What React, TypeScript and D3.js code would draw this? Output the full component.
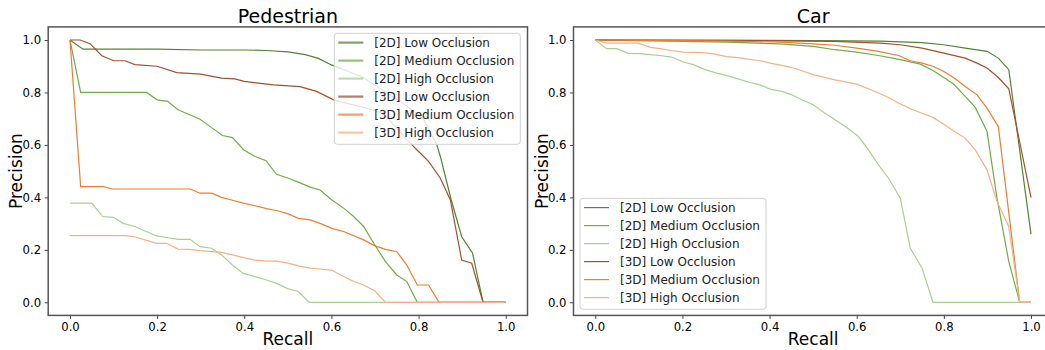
import React, { useEffect, useRef } from 'react'
import * as d3 from 'd3'

type Pt = [number, number]

// recall / precision pairs
const ped2DLow: Pt[] = [[0,1],[0.03,0.965],[0.1,0.965],[0.2,0.965],[0.3,0.962],[0.4,0.962],[0.45,0.96],[0.5,0.955],[0.54,0.944],[0.57,0.93],[0.6,0.905],[0.67,0.86],[0.758,0.766],[0.811,0.7],[0.842,0.6],[0.85,0.556],[0.875,0.39],[0.899,0.25],[0.924,0.187],[0.948,0],[1,0]]
const ped2DMed: Pt[] = [[0,1],[0.0245,0.8],[0.176,0.8],[0.2,0.772],[0.224,0.766],[0.248,0.734],[0.272,0.717],[0.2985,0.698],[0.325,0.666],[0.35,0.636],[0.373,0.628],[0.399,0.581],[0.425,0.556],[0.45,0.54],[0.474,0.488],[0.501,0.473],[0.524,0.458],[0.551,0.439],[0.574,0.428],[0.601,0.39],[0.628,0.359],[0.651,0.327],[0.674,0.289],[0.697,0.225],[0.724,0.155],[0.75,0.104],[0.773,0.079],[0.797,0],[1,0]]
const ped2DHigh: Pt[] = [[0,0.378],[0.05,0.378],[0.075,0.327],[0.1,0.324],[0.122,0.301],[0.149,0.289],[0.172,0.272],[0.199,0.253],[0.222,0.247],[0.248,0.24],[0.2755,0.24],[0.2985,0.212],[0.325,0.206],[0.348,0.18],[0.375,0.139],[0.398,0.11],[0.425,0.098],[0.451,0.085],[0.474,0.072],[0.501,0.051],[0.524,0.041],[0.549,0],[1,0]]
const ped3DLow: Pt[] = [[0,1],[0.023,1],[0.046,0.986],[0.073,0.94],[0.1,0.921],[0.126,0.921],[0.149,0.906],[0.2,0.9],[0.245,0.876],[0.3,0.87],[0.348,0.855],[0.378,0.852],[0.4,0.842],[0.467,0.829],[0.528,0.822],[0.566,0.804],[0.605,0.772],[0.68,0.74],[0.72,0.72],[0.773,0.62],[0.8,0.575],[0.823,0.537],[0.85,0.473],[0.873,0.39],[0.899,0.161],[0.922,0.149],[0.948,0],[1,0]]
const ped3DMed: Pt[] = [[0,1],[0.0245,0.441],[0.077,0.441],[0.096,0.432],[0.276,0.432],[0.2985,0.416],[0.325,0.416],[0.348,0.4],[0.375,0.388],[0.398,0.378],[0.425,0.368],[0.451,0.357],[0.474,0.35],[0.501,0.337],[0.524,0.32],[0.551,0.314],[0.574,0.301],[0.601,0.282],[0.628,0.27],[0.674,0.238],[0.7,0.215],[0.724,0.202],[0.75,0.193],[0.773,0.142],[0.797,0.066],[0.823,0.066],[0.847,0],[1,0]]
const ped3DHigh: Pt[] = [[0,0.254],[0.126,0.254],[0.149,0.25],[0.172,0.238],[0.199,0.225],[0.222,0.225],[0.248,0.203],[0.2755,0.202],[0.2985,0.197],[0.325,0.193],[0.348,0.19],[0.375,0.18],[0.398,0.17],[0.425,0.161],[0.451,0.157],[0.474,0.157],[0.501,0.149],[0.524,0.139],[0.551,0.13],[0.574,0.127],[0.601,0.122],[0.628,0.098],[0.651,0.079],[0.674,0.066],[0.7,0.043],[0.724,0],[1,0]]

const car2DLow: Pt[] = [[0,1],[0.3,0.999],[0.5,0.998],[0.654,0.996],[0.75,0.99],[0.8,0.982],[0.849,0.969],[0.899,0.957],[0.925,0.931],[0.949,0.887],[1,0.26]]
const car2DMed: Pt[] = [[0,1],[0.1,0.998],[0.2,0.995],[0.3,0.992],[0.424,0.985],[0.5,0.976],[0.55,0.963],[0.6,0.954],[0.65,0.941],[0.7,0.925],[0.746,0.908],[0.776,0.883],[0.8,0.857],[0.822,0.832],[0.849,0.785],[0.872,0.743],[0.899,0.651],[0.922,0.397],[0.949,0.155],[0.974,0],[1,0]]
const car2DHigh: Pt[] = [[0,1],[0.026,0.967],[0.049,0.967],[0.076,0.949],[0.103,0.948],[0.126,0.944],[0.152,0.94],[0.175,0.935],[0.202,0.916],[0.225,0.906],[0.252,0.887],[0.279,0.874],[0.302,0.864],[0.328,0.852],[0.351,0.84],[0.378,0.829],[0.401,0.813],[0.428,0.804],[0.451,0.791],[0.474,0.772],[0.5,0.753],[0.524,0.725],[0.55,0.696],[0.577,0.666],[0.604,0.632],[0.627,0.581],[0.65,0.524],[0.673,0.473],[0.7,0.397],[0.723,0.206],[0.75,0.13],[0.775,0],[1,0]]
const car3DLow: Pt[] = [[0,1],[0.3,0.999],[0.55,0.995],[0.654,0.988],[0.7,0.982],[0.75,0.969],[0.8,0.95],[0.849,0.931],[0.876,0.912],[0.899,0.893],[0.925,0.857],[0.949,0.814],[1,0.399]]
const car3DMed: Pt[] = [[0,1],[0.1,0.999],[0.2,0.998],[0.3,0.996],[0.424,0.992],[0.5,0.985],[0.55,0.98],[0.6,0.969],[0.65,0.957],[0.696,0.941],[0.723,0.921],[0.75,0.912],[0.775,0.9],[0.8,0.88],[0.822,0.857],[0.849,0.823],[0.876,0.791],[0.899,0.74],[0.925,0.67],[0.974,0],[1,0]]
const car3DHigh: Pt[] = [[0,1],[0.026,0.988],[0.099,0.988],[0.126,0.972],[0.149,0.967],[0.175,0.96],[0.202,0.954],[0.248,0.952],[0.275,0.946],[0.302,0.937],[0.328,0.933],[0.351,0.927],[0.378,0.921],[0.401,0.912],[0.428,0.903],[0.451,0.895],[0.474,0.883],[0.5,0.868],[0.55,0.848],[0.6,0.832],[0.627,0.814],[0.65,0.798],[0.673,0.781],[0.696,0.76],[0.723,0.738],[0.75,0.721],[0.775,0.705],[0.8,0.679],[0.822,0.654],[0.849,0.626],[0.872,0.581],[0.899,0.505],[0.922,0.384],[0.949,0.289],[0.974,0],[1,0]]

const seriesNames = ['[2D] Low Occlusion','[2D] Medium Occlusion','[2D] High Occlusion','[3D] Low Occlusion','[3D] Medium Occlusion','[3D] High Occlusion']
const seriesColors = ['#548235','#70ad47','#a9d18e','#a0522d','#ed7d31','#f4b183']
const ticks = [0, 0.2, 0.4, 0.6, 0.8, 1.0]

const FONT = 'DejaVu Sans, sans-serif'

export default function App(){
  const svgRef = useRef<SVGSVGElement>(null)

  useEffect(()=>{
    const svg = d3.select(svgRef.current)
    svg.selectAll('*').remove()

    const panel = (title: string, left: number, data: Pt[][], legend: {x:number,y:number,faded:boolean}) => {
      const w = 479.3, top = 26.9, bottom = 315.4
      const x = d3.scaleLinear().domain([-0.05, 1.05]).range([left, left + w])
      const y = d3.scaleLinear().domain([-0.05, 1.05]).range([bottom, top])
      const g = svg.append('g')

      const line = d3.line<Pt>().x(d=>x(d[0])).y(d=>y(d[1]))
      data.forEach((s,i)=>{
        g.append('path').attr('d', line(s)).attr('fill','none')
          .attr('stroke', seriesColors[i]).attr('stroke-width',1.2)
      })

      const xAxis = g.append('g').attr('transform',`translate(0,${bottom})`)
        .call(d3.axisBottom(x).tickValues(ticks).tickFormat(d3.format('.1f')).tickSizeOuter(0).tickSize(3.5).tickPadding(3.5))
      const yAxis = g.append('g').attr('transform',`translate(${left},0)`)
        .call(d3.axisLeft(y).tickValues(ticks).tickFormat(d3.format('.1f')).tickSizeOuter(0).tickSize(3.5).tickPadding(3.5))
      ;[xAxis, yAxis].forEach(a=>{
        a.select('.domain').remove()
        a.selectAll('text').attr('font-family',FONT).attr('font-size',11.7).attr('fill','#000')
        a.selectAll('line').attr('stroke','#444')
      })

      g.append('rect').attr('x',left).attr('y',top).attr('width',w).attr('height',bottom-top)
        .attr('fill','none').attr('stroke','#555').attr('stroke-width',1.5)

      g.append('text').attr('x',left + w/2).attr('y',23).attr('text-anchor','middle')
        .attr('font-family',FONT).attr('font-size',19).text(title)
      g.append('text').attr('x',left + w/2).attr('y',345).attr('text-anchor','middle')
        .attr('font-family',FONT).attr('font-size',17).text('Recall')
      g.append('text').attr('transform',`translate(${left-26},${(top+bottom)/2}) rotate(-90)`)
        .attr('text-anchor','middle').attr('font-family',FONT).attr('font-size',17).text('Precision')

      // legend
      const lg = g.append('g').attr('transform',`translate(${legend.x},${legend.y})`)
      lg.append('rect').attr('width',186).attr('height',111).attr('rx',3)
        .attr('fill','#fff').attr('fill-opacity',0.8).attr('stroke','#d0d0d0').attr('stroke-width',1)
      seriesNames.forEach((n,i)=>{
        const yy = 9.3 + i*18
        lg.append('line').attr('x1',4).attr('x2',29).attr('y1',yy).attr('y2',yy)
          .attr('stroke',seriesColors[i]).attr('stroke-width',legend.faded?2.2:1.2)
          .attr('stroke-opacity',legend.faded?0.75:1)
        lg.append('text').attr('x',40).attr('y',yy).attr('dy','0.36em')
          .attr('font-family',FONT).attr('font-size',12).attr('fill','#222').text(n)
      })
    }

    panel('Pedestrian', 48.2, [ped2DLow, ped2DMed, ped2DHigh, ped3DLow, ped3DMed, ped3DHigh], {x:334.3, y:33.3, faded:true})
    panel('Car', 573.5, [car2DLow, car2DMed, car2DHigh, car3DLow, car3DMed, car3DHigh], {x:580, y:198.3, faded:false})
  },[])

  return (
    <svg ref={svgRef} width={1045} height={350}
      style={{position:'absolute', left:0, top:0, background:'#fff'}} />
  )
}
